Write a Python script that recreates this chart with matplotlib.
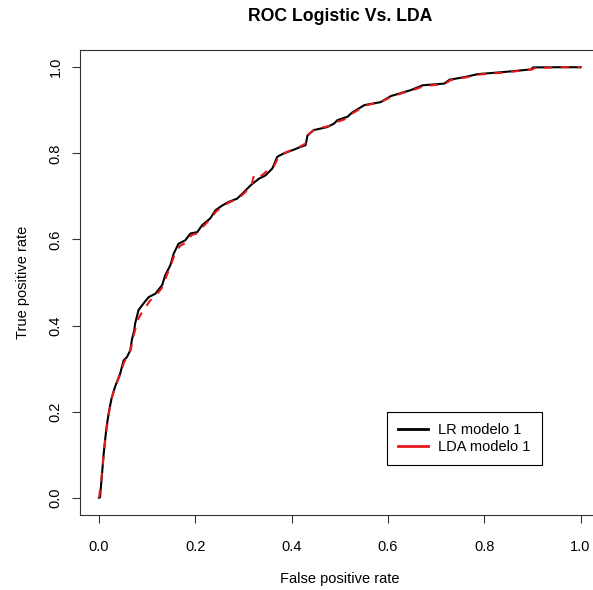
import matplotlib
matplotlib.use("Agg")
import matplotlib.pyplot as plt
from matplotlib.lines import Line2D

plt.rcParams['font.family'] = ['Liberation Sans', 'DejaVu Sans']

# ROC points (false positive rate, true positive rate)
lr_fpr = [0.0, 0.002, 0.0056, 0.009, 0.0125, 0.016, 0.021, 0.026, 0.033, 0.044,
          0.051, 0.058, 0.065, 0.068, 0.073, 0.075, 0.082, 0.092, 0.103, 0.117,
          0.131, 0.1375, 0.148, 0.155, 0.165, 0.179, 0.190, 0.204, 0.214, 0.231,
          0.242, 0.256, 0.269, 0.287, 0.301, 0.315, 0.332, 0.346, 0.360, 0.370,
          0.384, 0.401, 0.419, 0.429, 0.433, 0.446, 0.474, 0.488, 0.495, 0.516,
          0.526, 0.551, 0.585, 0.606, 0.627, 0.648, 0.672, 0.717, 0.728, 0.759,
          0.787, 0.842, 0.898, 0.901, 0.953, 1.0]
lr_tpr = [0.0, 0.001, 0.048, 0.095, 0.134, 0.168, 0.203, 0.231, 0.257, 0.289,
          0.319, 0.327, 0.343, 0.366, 0.389, 0.405, 0.436, 0.451, 0.466, 0.474,
          0.494, 0.517, 0.540, 0.567, 0.590, 0.598, 0.614, 0.617, 0.633, 0.649,
          0.668, 0.679, 0.687, 0.695, 0.710, 0.726, 0.741, 0.749, 0.765, 0.792,
          0.800, 0.807, 0.815, 0.819, 0.842, 0.854, 0.861, 0.869, 0.877, 0.885,
          0.895, 0.912, 0.919, 0.933, 0.940, 0.947, 0.958, 0.962, 0.971, 0.977,
          0.984, 0.989, 0.995, 0.9995, 1.0, 1.0]

lda_fpr = [0.0, 0.005, 0.009, 0.013, 0.017, 0.021, 0.027, 0.034, 0.045, 0.052,
           0.060, 0.066, 0.070, 0.075, 0.079, 0.086, 0.095, 0.106, 0.120, 0.132,
           0.140, 0.149, 0.157, 0.168, 0.180, 0.192, 0.206, 0.216, 0.232, 0.243,
           0.258, 0.270, 0.288, 0.302, 0.316, 0.322, 0.334, 0.350, 0.362, 0.372,
           0.386, 0.402, 0.420, 0.432, 0.436, 0.448, 0.476, 0.490, 0.510, 0.518,
           0.528, 0.553, 0.587, 0.608, 0.630, 0.650, 0.674, 0.718, 0.730, 0.760,
           0.790, 0.845, 0.900, 0.905, 0.955, 1.0]
lda_tpr = [0.0, 0.045, 0.092, 0.136, 0.170, 0.200, 0.235, 0.258, 0.290, 0.315,
           0.330, 0.345, 0.370, 0.390, 0.410, 0.425, 0.440, 0.458, 0.472, 0.490,
           0.515, 0.540, 0.565, 0.585, 0.592, 0.610, 0.615, 0.630, 0.648, 0.665,
           0.677, 0.686, 0.694, 0.708, 0.724, 0.750, 0.745, 0.760, 0.767, 0.790,
           0.801, 0.809, 0.817, 0.825, 0.845, 0.856, 0.863, 0.871, 0.879, 0.886,
           0.894, 0.911, 0.920, 0.932, 0.940, 0.946, 0.956, 0.961, 0.970, 0.976,
           0.983, 0.988, 0.995, 0.998, 1.0, 1.0]

ticks = [0.0, 0.2, 0.4, 0.6, 0.8, 1.0]
tick_labels = ["0.0", "0.2", "0.4", "0.6", "0.8", "1.0"]
series_names = ["LR modelo 1", "LDA modelo 1"]

W, H = 593, 590
fig = plt.figure(figsize=(W / 100, H / 100), dpi=100)
# plot box runs past the right edge of the picture, like the original
ax = fig.add_axes([79.8 / W, 75 / H, 520 / W, 465 / H])

ax.plot(lr_fpr, lr_tpr, color="black", lw=1.5)
ax.plot(lda_fpr, lda_tpr, color="#e41a1c", lw=1.5, linestyle=(0, (4, 4)))

ax.set_xlim(-0.04, 1.04)
ax.set_ylim(-0.04, 1.04)
ax.set_xticks(ticks)
ax.set_xticklabels(tick_labels)
ax.set_yticks(ticks)
ax.set_yticklabels(tick_labels)
ax.tick_params(axis="both", direction="out", length=6, width=0.8,
               labelsize=10.5, color="#333333")
ax.tick_params(axis="x", pad=12)
ax.tick_params(axis="y", pad=6.3)
for lab in ax.get_yticklabels():
    lab.set_rotation(90)
    lab.set_va("center")
for sp in ax.spines.values():
    sp.set_linewidth(0.8)
    sp.set_color("#333333")
ax.spines["right"].set_visible(False)  # falls outside the picture anyway

ax.set_xlabel("False positive rate", fontsize=10.5, va="baseline")
ax.xaxis.set_label_coords(0.5, (515 - 583) / 465)
ax.set_ylabel("True positive rate", fontsize=10.5, va="center")
ax.yaxis.set_label_coords((23 - 79.8) / 520, 0.5)

fig.text((79.8 + 600) / 2 / W, 1 - 21 / H, "ROC Logistic Vs. LDA",
         ha="center", va="baseline", fontsize=12.7, fontweight="bold")

handles = [Line2D([], [], color="black", lw=2),
           Line2D([], [], color="#e41a1c", lw=2)]
leg = ax.legend(handles, series_names, loc="upper left",
                bbox_to_anchor=(387 / W, 1 - 412 / H), bbox_transform=fig.transFigure,
                borderaxespad=0, fontsize=10.5, fancybox=False, framealpha=1,
                edgecolor="black", borderpad=0.73, labelspacing=0.23,
                handlelength=2.05, handletextpad=0.75)
leg.get_frame().set_linewidth(0.8)

fig.savefig("out.png", dpi=100)
